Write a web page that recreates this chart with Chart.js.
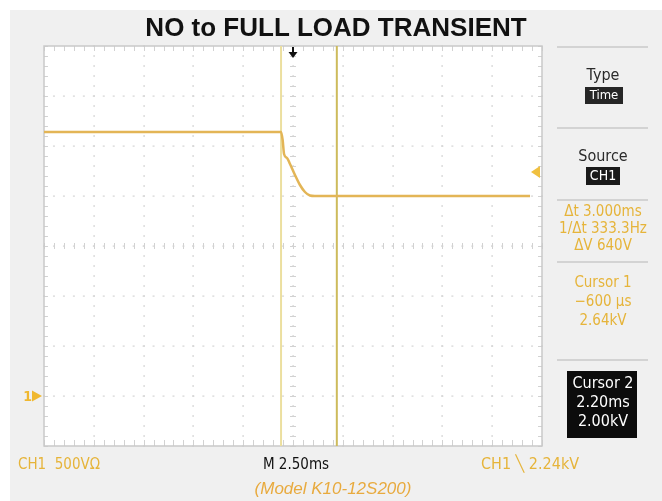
<!DOCTYPE html>
<html>
<head>
<meta charset="utf-8">
<script src="https://cdn.jsdelivr.net/npm/chart.js@4.4.1/dist/chart.umd.min.js"></script>
<style>
html,body{margin:0;padding:0;background:#fff;}
#wrap{width:662px;height:501px;}
</style>
</head>
<body>
<div id="wrap"><canvas id="c" width="662" height="501"></canvas></div>
<script>
// ---- data ----
const timeMs = [-12.5, -0.6, -0.52, -0.45, -0.3, -0.15, 0.1, 0.35, 0.6, 0.85, 1.1, 11.9];
const voltsV = [2640, 2640, 2560, 2420, 2380, 2320, 2210, 2110, 2040, 2005, 2000, 2000];
const cursorTimesMs = [-0.6, 2.2];
const triggerLevelV = 2240;
const groundLevelV = 0;
const timeRangeMs = [-12.5, 12.5];   // 10 divisions of 2.50 ms
const voltRangeV = [-500, 3500];     // 8 divisions of 500 V
const timePerDiv = 2.5;
const voltPerDiv = 500;

const titleText = 'NO to FULL LOAD TRANSIENT';
const modelText = '(Model K10-12S200)';
const bottomLeftText = 'CH1  500VΩ';
const bottomMidText = 'M 2.50ms';
const bottomRightText = 'CH1 ╲ 2.24kV';
const typeLabel = 'Type', typeValue = 'Time';
const sourceLabel = 'Source', sourceValue = 'CH1';
const deltaLines = ['Δt 3.000ms', '1/Δt 333.3Hz', 'ΔV 640V'];
const cursor1Lines = ['Cursor 1', '−600 µs', '2.64kV'];
const cursor2Lines = ['Cursor 2', '2.20ms', '2.00kV'];

const ORANGE = '#e6b43a';
const NARROW = '"Liberation Sans Narrow", "DejaVu Sans Condensed", "Liberation Sans", sans-serif';

const bgPlugin = {
  id: 'scopeBg',
  beforeDraw(chart) {
    const ctx = chart.ctx, a = chart.chartArea;
    ctx.save();
    ctx.fillStyle = '#ffffff';
    ctx.fillRect(0, 0, chart.width, chart.height);
    ctx.fillStyle = '#f0f0f0';
    ctx.fillRect(10, 10, chart.width - 10, chart.height - 10);
    ctx.fillStyle = '#ffffff';
    ctx.fillRect(a.left, a.top, a.right - a.left, a.bottom - a.top);
    ctx.restore();
  },
  beforeDatasetsDraw(chart) {
    const ctx = chart.ctx, a = chart.chartArea;
    const xs = chart.scales.x, ys = chart.scales.y;
    ctx.save();
    ctx.fillStyle = '#d4d4d4';
    const minorX = timePerDiv / 5, minorY = voltPerDiv / 5;
    for (let t = timeRangeMs[0] + timePerDiv; t < timeRangeMs[1] - 1e-9; t += timePerDiv) {
      const px = Math.round(xs.getPixelForValue(t));
      for (let v = voltRangeV[0]; v <= voltRangeV[1] + 1e-9; v += minorY) {
        const py = ys.getPixelForValue(v);
        ctx.fillRect(px - 0.5, py - 1, 1.2, 2);
      }
    }
    for (let v = voltRangeV[0] + voltPerDiv; v < voltRangeV[1] - 1e-9; v += voltPerDiv) {
      const py = Math.round(ys.getPixelForValue(v));
      for (let t = timeRangeMs[0]; t <= timeRangeMs[1] + 1e-9; t += minorX) {
        const px = xs.getPixelForValue(t);
        ctx.fillRect(px - 1, py - 0.5, 2, 1.2);
      }
    }
    ctx.strokeStyle = '#d2d2d2';
    ctx.lineWidth = 1;
    const cx = xs.getPixelForValue((timeRangeMs[0] + timeRangeMs[1]) / 2);
    const cy = ys.getPixelForValue((voltRangeV[0] + voltRangeV[1]) / 2);
    ctx.beginPath();
    for (let t = timeRangeMs[0]; t <= timeRangeMs[1] + 1e-9; t += minorX) {
      const px = Math.round(xs.getPixelForValue(t)) + 0.5;
      ctx.moveTo(px, cy - 3); ctx.lineTo(px, cy + 3);
      ctx.moveTo(px, a.top); ctx.lineTo(px, a.top + 5);
      ctx.moveTo(px, a.bottom); ctx.lineTo(px, a.bottom - 6);
    }
    for (let v = voltRangeV[0]; v <= voltRangeV[1] + 1e-9; v += minorY) {
      const py = Math.round(ys.getPixelForValue(v)) + 0.5;
      ctx.moveTo(cx - 3, py); ctx.lineTo(cx + 3, py);
      ctx.moveTo(a.left, py); ctx.lineTo(a.left + 4, py);
      ctx.moveTo(a.right, py); ctx.lineTo(a.right - 4, py);
    }
    ctx.stroke();
    ctx.strokeStyle = '#c9c9c9';
    ctx.lineWidth = 1.5;
    ctx.strokeRect(a.left, a.top, a.right - a.left, a.bottom - a.top);
    ctx.restore();
  },
  afterDatasetsDraw(chart) {
    const ctx = chart.ctx, a = chart.chartArea;
    const xs = chart.scales.x, ys = chart.scales.y;
    ctx.save();
    const tx = xs.getPixelForValue(0);
    ctx.fillStyle = '#111';
    ctx.fillRect(tx - 1, a.top + 1, 2, 6);
    ctx.beginPath();
    ctx.moveTo(tx - 4.5, a.top + 6); ctx.lineTo(tx + 4.5, a.top + 6); ctx.lineTo(tx, a.top + 12);
    ctx.closePath(); ctx.fill();
    const ty = ys.getPixelForValue(triggerLevelV);
    ctx.fillStyle = '#f0c040';
    ctx.beginPath();
    ctx.moveTo(a.right - 11, ty); ctx.lineTo(a.right - 2, ty - 6); ctx.lineTo(a.right - 2, ty + 6);
    ctx.closePath(); ctx.fill();
    const gy = ys.getPixelForValue(groundLevelV);
    ctx.fillStyle = '#f0b830';
    ctx.font = 'bold 14px ' + NARROW;
    ctx.textAlign = 'right'; ctx.textBaseline = 'middle';
    ctx.fillText('1', a.left - 12, gy + 1);
    ctx.beginPath();
    ctx.moveTo(a.left - 12, gy - 5.5); ctx.lineTo(a.left - 2, gy); ctx.lineTo(a.left - 12, gy + 5.5);
    ctx.closePath(); ctx.fill();
    ctx.restore();
  },
  afterDraw(chart) {
    const ctx = chart.ctx;
    ctx.save();
    ctx.textBaseline = 'middle';
    ctx.textAlign = 'center';
    ctx.fillStyle = '#111';
    ctx.font = 'bold 26px "Liberation Sans", Arial, sans-serif';
    ctx.fillText(titleText, 336, 29);
    ctx.strokeStyle = '#d3d3d3';
    ctx.lineWidth = 2;
    [47, 128, 200, 262, 360].forEach(y => {
      ctx.beginPath(); ctx.moveTo(557, y); ctx.lineTo(648, y); ctx.stroke();
    });
    const px = 603;
    ctx.font = '16px ' + NARROW;
    ctx.fillStyle = '#2a2a2a';
    ctx.fillText(typeLabel, px, 76);
    ctx.fillStyle = '#262626';
    ctx.fillRect(585, 87, 38, 17);
    ctx.fillStyle = '#fff';
    ctx.font = '13px ' + NARROW;
    ctx.fillText(typeValue, px + 1, 96);
    ctx.font = '16px ' + NARROW;
    ctx.fillStyle = '#2a2a2a';
    ctx.fillText(sourceLabel, px, 157);
    ctx.fillStyle = '#1a1a1a';
    ctx.fillRect(586, 167, 34, 18);
    ctx.fillStyle = '#fff';
    ctx.font = '14px ' + NARROW;
    ctx.fillText(sourceValue, px, 176);
    ctx.font = '15px ' + NARROW;
    ctx.fillStyle = ORANGE;
    deltaLines.forEach((s, i) => ctx.fillText(s, px, 212 + i * 17));
    cursor1Lines.forEach((s, i) => ctx.fillText(s, px, 283 + i * 19));
    ctx.fillStyle = '#0c0c0c';
    ctx.fillRect(567, 371, 70, 67);
    ctx.fillStyle = '#fff';
    ctx.font = '16px ' + NARROW;
    cursor2Lines.forEach((s, i) => ctx.fillText(s, px, 384 + i * 19));
    ctx.font = '15px ' + NARROW;
    ctx.fillStyle = ORANGE;
    ctx.textAlign = 'left';
    ctx.fillText(bottomLeftText, 18, 465);
    ctx.font = '16px ' + NARROW;
    ctx.fillText(bottomRightText, 481, 465);
    ctx.textAlign = 'center';
    ctx.fillStyle = '#111';
    ctx.font = '15px ' + NARROW;
    ctx.fillText(bottomMidText, 296, 465);
    ctx.font = 'italic 17px "Liberation Sans", Arial, sans-serif';
    ctx.fillStyle = '#e8aa3e';
    ctx.fillText(modelText, 333, 489);
    ctx.restore();
  }
};

const tracePoints = timeMs.map((t, i) => ({x: t, y: voltsV[i]}));
const cursorColors = ['#ecdf9f', '#cdbb5c'];
const cursorSets = cursorTimesMs.map((t, i) => ({
  label: 'Cursor ' + (i + 1),
  data: [{x: t, y: voltRangeV[0]}, {x: t, y: voltRangeV[1]}],
  borderColor: cursorColors[i],
  borderWidth: 2,
  pointRadius: 0,
  showLine: true,
  order: 2
}));

new Chart(document.getElementById('c'), {
  type: 'scatter',
  data: {
    datasets: [
      ...cursorSets,
      {
        label: 'CH1',
        data: tracePoints,
        borderColor: '#e3b556',
        borderWidth: 2.5,
        pointRadius: 0,
        showLine: true,
        cubicInterpolationMode: 'monotone',
        order: 1
      }
    ]
  },
  options: {
    responsive: false,
    animation: false,
    devicePixelRatio: 1,
    layout: {padding: {left: 44, top: 46, right: 120, bottom: 55}},
    plugins: {legend: {display: false}, tooltip: {enabled: false}, title: {display: false}},
    scales: {
      x: {type: 'linear', min: timeRangeMs[0], max: timeRangeMs[1], display: false},
      y: {type: 'linear', min: voltRangeV[0], max: voltRangeV[1], display: false}
    }
  },
  plugins: [bgPlugin]
});
</script>
</body>
</html>
